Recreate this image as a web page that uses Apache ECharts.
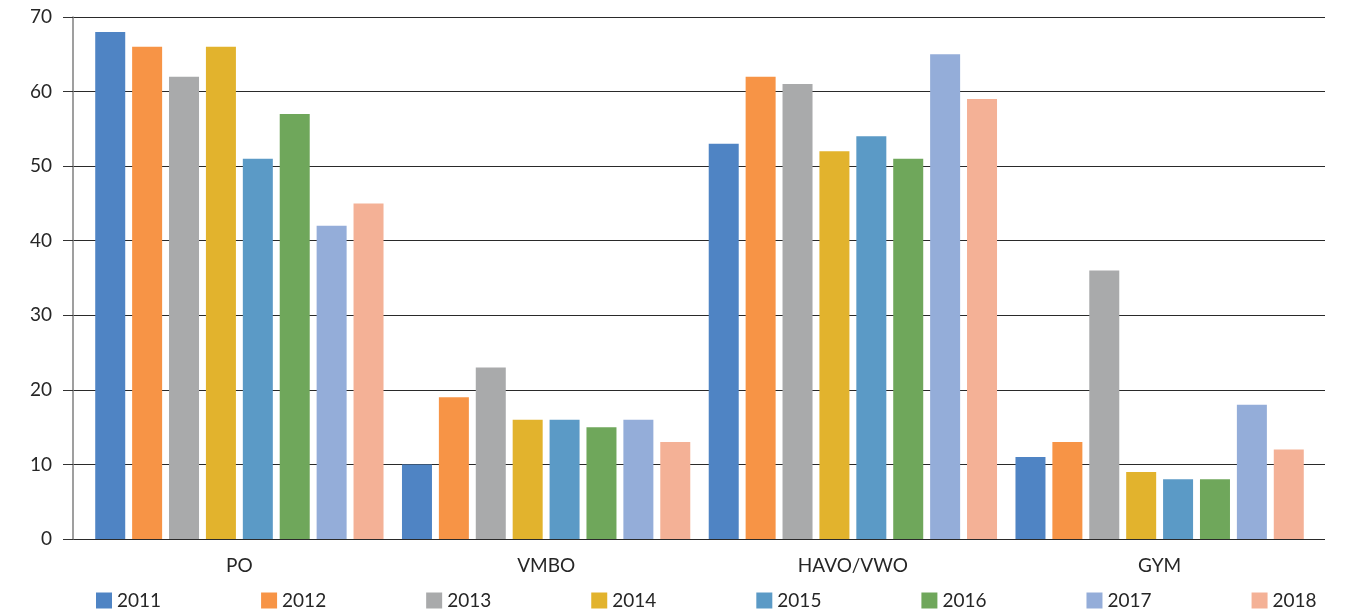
<!DOCTYPE html>
<html><head><meta charset="utf-8">
<script src="https://cdn.jsdelivr.net/npm/echarts@6/dist/echarts.min.js"></script>
<style>html,body{margin:0;padding:0;background:#fff}#c{width:1347px;height:614px}</style>
</head><body><div id="c"></div>
<script>
const categories = ['PO', 'VMBO', 'HAVO/VWO', 'GYM'];
const years = ['2011', '2012', '2013', '2014', '2015', '2016', '2017', '2018'];
const v2011 = [68, 10, 53, 11];
const v2012 = [66, 19, 62, 13];
const v2013 = [62, 23, 61, 36];
const v2014 = [66, 16, 52, 9];
const v2015 = [51, 16, 54, 8];
const v2016 = [57, 15, 51, 8];
const v2017 = [42, 16, 65, 18];
const v2018 = [45, 13, 59, 12];
const yTicks = [0, 10, 20, 30, 40, 50, 60, 70];

const values = [v2011, v2012, v2013, v2014, v2015, v2016, v2017, v2018];
const colors = ['#4F84C4', '#F79446', '#A9AAAB', '#E2B32D', '#5B9AC6', '#6FA75B', '#94ADD9', '#F4B196'];
const font = 'Lato, "Open Sans", sans-serif';

const chart = echarts.init(document.getElementById('c'), null, {renderer: 'canvas'});
chart.setOption({
  animation: false,
  color: colors,
  textStyle: {fontFamily: font},
  grid: [
    {left: 73, right: 22, top: 17, bottom: 75},
    {left: 86, right: 34, top: 17, bottom: 75}
  ],
  xAxis: [
    {gridIndex: 0, type: 'value', min: 0, max: 1, show: false},
    {gridIndex: 1, type: 'category', data: categories,
     axisLine: {show: false}, axisTick: {show: false},
     axisLabel: {fontSize: 19, color: '#262626', margin: 17, fontFamily: font}}
  ],
  yAxis: [
    {gridIndex: 0, type: 'value', min: yTicks[0], max: yTicks[yTicks.length - 1], interval: 10,
     axisLine: {show: true, lineStyle: {color: '#7f7f7f', width: 1.5}},
     axisTick: {show: true, length: 10, lineStyle: {color: '#333'}},
     axisLabel: {fontSize: 19, color: '#262626', margin: 21, fontFamily: font},
     splitLine: {show: true, lineStyle: {color: '#2a2a2a', width: 1}}},
    {gridIndex: 1, type: 'value', min: yTicks[0], max: yTicks[yTicks.length - 1], interval: 10, show: false,
     splitLine: {show: false}}
  ],
  legend: {
    top: 586, left: 91, itemWidth: 16, itemHeight: 16, itemGap: 100,
    icon: 'rect',
    textStyle: {fontSize: 19, color: '#262626', fontFamily: font},
    data: years
  },
  series: years.map((y, i) => ({
    name: y, type: 'bar', xAxisIndex: 1, yAxisIndex: 1,
    data: values[i], barWidth: 30, barGap: '23%',
    itemStyle: {color: colors[i]}
  }))
});
</script></body></html>
